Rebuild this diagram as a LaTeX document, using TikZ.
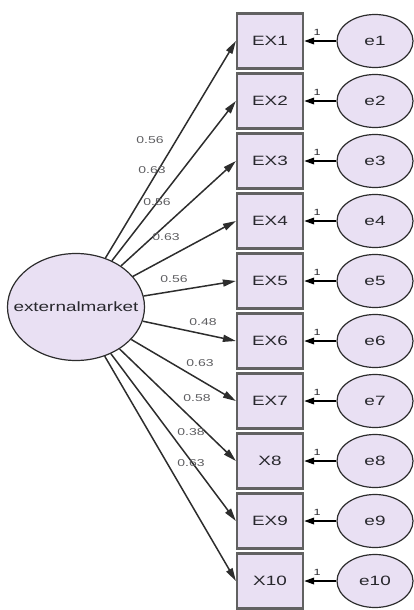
\documentclass[tikz,border=0pt]{standalone}
\usepackage{fontspec}
\setsansfont{Liberation Sans}[FakeStretch=1.4]
\usetikzlibrary{arrows.meta,shapes.geometric}

\definecolor{amosfill}{RGB}{233,224,243}
\definecolor{amosline}{RGB}{45,45,45}
\definecolor{amostext}{RGB}{40,40,45}

\begin{document}
\begin{tikzpicture}[x=1pt,y=-1pt,font=\sffamily,
    obsbox/.style={draw=amosline!75,line width=2.2pt,fill=amosfill,
        minimum width=66pt,minimum height=55pt,inner sep=0pt,
        text=amostext,font=\sffamily\fontsize{13.5}{13.5}\selectfont},
    errell/.style={ellipse,draw=amosline,line width=1.2pt,fill=amosfill,
        minimum width=76pt,minimum height=53pt,inner sep=0pt,
        text=amostext,font=\sffamily\fontsize{13.5}{13.5}\selectfont},
    latell/.style={ellipse,draw=amosline,line width=1.2pt,fill=amosfill,
        minimum width=137pt,minimum height=107pt,inner sep=0pt,
        text=amostext,font=\sffamily\fontsize{13.5}{13.5}\selectfont},
    load/.style={draw=amosline,line width=1.5pt,-{Triangle[length=13pt,width=7pt]}},
    err/.style={draw=black,line width=1.8pt,-{Triangle[length=10pt,width=6.5pt]}},
    wt/.style={text=amostext!75,font=\sffamily\fontsize{10}{10}\selectfont},
    one/.style={text=amostext,font=\sffamily\fontsize{9}{9}\selectfont}]
    \useasboundingbox (0,0) rectangle (414,610);

    % Latent variable
    \node[latell] (ext) at (76,307) {\makebox[0pt]{externalmarket}};

    % Observed items
    \node[obsbox] (ex1)  at (270,41)  {EX1};
    \node[obsbox] (ex2)  at (270,101) {EX2};
    \node[obsbox] (ex3)  at (270,161) {EX3};
    \node[obsbox] (ex4)  at (270,221) {EX4};
    \node[obsbox] (ex5)  at (270,281) {EX5};
    \node[obsbox] (ex6)  at (270,341) {EX6};
    \node[obsbox] (ex7)  at (270,401) {EX7};
    \node[obsbox] (ex8)  at (270,461) {X8};
    \node[obsbox] (ex9)  at (270,521) {EX9};
    \node[obsbox] (ex10) at (270,581) {X10};

    % Error terms
    \node[errell] (e1)  at (375,41)  {e1};
    \node[errell] (e2)  at (375,101) {e2};
    \node[errell] (e3)  at (375,161) {e3};
    \node[errell] (e4)  at (375,221) {e4};
    \node[errell] (e5)  at (375,281) {e5};
    \node[errell] (e6)  at (375,341) {e6};
    \node[errell] (e7)  at (375,401) {e7};
    \node[errell] (e8)  at (375,461) {e8};
    \node[errell] (e9)  at (375,521) {e9};
    \node[errell] (e10) at (375,581) {e10};

    % Loadings
    \draw[load] (ext) -- (ex1.west);
    \draw[load] (ext) -- (ex2.west);
    \draw[load] (ext) -- (ex3.west);
    \draw[load] (ext) -- (ex4.west);
    \draw[load] (ext) -- (ex5.west);
    \draw[load] (ext) -- (ex6.west);
    \draw[load] (ext) -- (ex7.west);
    \draw[load] (ext) -- (ex8.west);
    \draw[load] (ext) -- (ex9.west);
    \draw[load] (ext) -- (ex10.west);

    % -- loading values
    \node[wt] (w1)  at (150,140) {0.56};
    \node[wt] (w2)  at (152,170) {0.63};
    \node[wt] (w3)  at (157,202) {0.56};
    \node[wt] (w4)  at (166,237) {0.63};
    \node[wt] (w5)  at (174,279) {0.56};
    \node[wt] (w6)  at (203,322) {0.48};
    \node[wt] (w7)  at (200,363) {0.63};
    \node[wt] (w8)  at (197,398) {0.58};
    \node[wt] (w9)  at (191,432) {0.38};
    \node[wt] (w10) at (191,463) {0.63};

    % Error paths
    \draw[err] (e1.west)  -- node[one,pos=0.6,above=1pt] {1} (ex1.east);
    \draw[err] (e2.west)  -- node[one,pos=0.6,above=1pt] {1} (ex2.east);
    \draw[err] (e3.west)  -- node[one,pos=0.6,above=1pt] {1} (ex3.east);
    \draw[err] (e4.west)  -- node[one,pos=0.6,above=1pt] {1} (ex4.east);
    \draw[err] (e5.west)  -- node[one,pos=0.6,above=1pt] {1} (ex5.east);
    \draw[err] (e6.west)  -- node[one,pos=0.6,above=1pt] {1} (ex6.east);
    \draw[err] (e7.west)  -- node[one,pos=0.6,above=1pt] {1} (ex7.east);
    \draw[err] (e8.west)  -- node[one,pos=0.6,above=1pt] {1} (ex8.east);
    \draw[err] (e9.west)  -- node[one,pos=0.6,above=1pt] {1} (ex9.east);
    \draw[err] (e10.west) -- node[one,pos=0.6,above=1pt] {1} (ex10.east);
\end{tikzpicture}
\end{document}
